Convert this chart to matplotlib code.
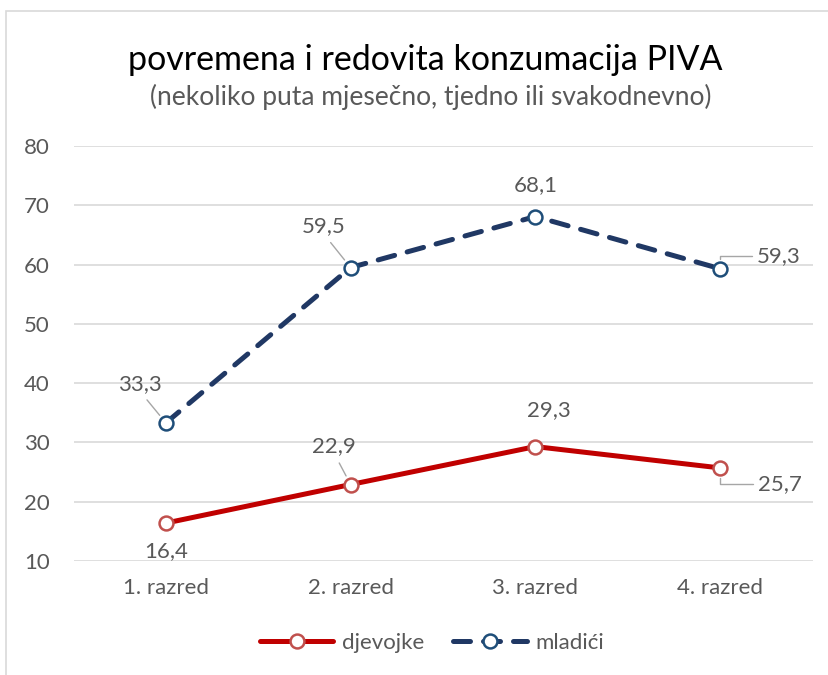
import matplotlib.pyplot as plt
from matplotlib.patches import Rectangle

plt.rcParams['font.family'] = ['Lato', 'DejaVu Sans']

categories = ['1. razred', '2. razred', '3. razred', '4. razred']
djevojke = [16.4, 22.9, 29.3, 25.7]
mladici = [33.3, 59.5, 68.1, 59.3]
yticks = [10, 20, 30, 40, 50, 60, 70, 80]

# label offsets in pixels (dx, dy) and leader line type
djev_offsets = [(0, -28, None), (-17, 38, 'line'), (13, 36, None), (38, -16, 'elbow')]
mlad_offsets = [(-26, 39, 'line'), (-27, 41, 'line'), (0, 31, None), (37, 13, 'elbow')]

text_col = '#595959'
red = '#c00000'
red_edge = '#c0504d'
blue = '#203864'
blue_edge = '#1f4e79'

fig = plt.figure(figsize=(8.29, 6.75), dpi=100)
fig.patches.append(Rectangle((6 / 829, -0.01), 1.0, 1 - 11 / 675 + 0.01,
                             transform=fig.transFigure, fill=False,
                             edgecolor='#d9d9d9', lw=1.2))

ax = fig.add_axes([73.5 / 829, 1 - 561 / 675, (812.5 - 73.5) / 829, (561 - 146) / 675])
x = list(range(len(categories)))

ax.plot(x, djevojke, color=red, lw=3.6, marker='o', ms=10, mfc='white',
        mec=red_edge, mew=1.8, solid_capstyle='round', label='djevojke', zorder=3)
ax.plot(x, mladici, color=blue, lw=3.6, marker='o', ms=10, mfc='white',
        mec=blue_edge, mew=1.8, dashes=(3.4, 2.6), dash_capstyle='round',
        label='mladići', zorder=3)

def add_labels(vals, offsets):
    for i, (v, (dx, dy, kind)) in enumerate(zip(vals, offsets)):
        props = None
        ha = 'center'
        if kind == 'line':
            props = dict(arrowstyle='-', color='#a6a6a6', lw=1, shrinkA=3, shrinkB=7,
                         relpos=(0.55, 0))
        elif kind == 'elbow':
            ha = 'left'
            props = dict(arrowstyle='-', color='#a6a6a6', lw=1, shrinkA=2, shrinkB=7,
                         connectionstyle='angle,angleA=0,angleB=90,rad=0',
                         relpos=(0, 0.5))
        ax.annotate(f'{v:.1f}'.replace('.', ','), (i, v), xytext=(dx, dy),
                    textcoords='offset pixels', ha=ha, va='center', fontsize=16,
                    color=text_col, arrowprops=props, zorder=4)

add_labels(djevojke, djev_offsets)
add_labels(mladici, mlad_offsets)

ax.set_xlim(-0.5, 3.5)
ax.set_ylim(10, 80)
ax.set_yticks(yticks)
ax.set_xticks(x)
ax.set_xticklabels(categories)
ax.tick_params(axis='both', length=0, labelsize=16, colors=text_col)
ax.tick_params(axis='x', pad=12)
ax.tick_params(axis='y', pad=17)
ax.grid(True, axis='y', color='#d9d9d9', lw=1.2)
ax.set_axisbelow(True)
for s in ax.spines.values():
    s.set_visible(False)

fig.text(425 / 829, 1 - 60 / 675, 'povremena i redovita konzumacija PIVA', ha='center',
         va='center', fontsize=24.5, color='black')
fig.text(431 / 829, 1 - 97 / 675, '(nekoliko puta mjesečno, tjedno ili svakodnevno)',
         ha='center', va='center', fontsize=19, color=text_col)

leg = fig.legend(loc='center', bbox_to_anchor=(432 / 829, 1 - 643 / 675), ncol=2,
                 frameon=False, fontsize=16, handlelength=3.3, columnspacing=1.3,
                 handletextpad=0.4)
for t in leg.get_texts():
    t.set_color(text_col)

fig.savefig('out.png', dpi=100)
